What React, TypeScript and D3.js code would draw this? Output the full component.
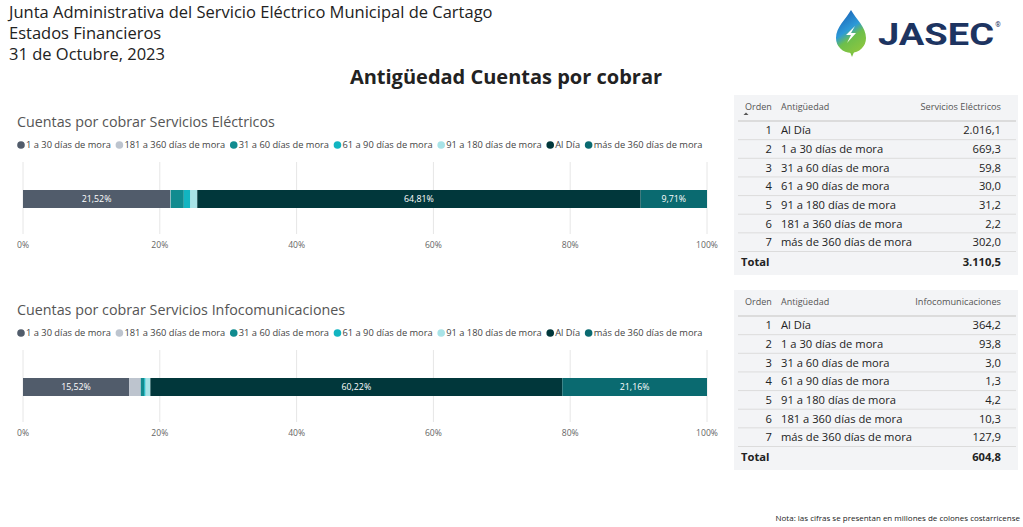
import React, { useEffect, useRef } from "react";
import * as d3 from "d3";

// stack order (same as legend)
const categories = [
  "1 a 30 días de mora",
  "181 a 360 días de mora",
  "31 a 60 días de mora",
  "61 a 90 días de mora",
  "91 a 180 días de mora",
  "Al Día",
  "más de 360 días de mora",
];
const colors = ["#515c6b", "#bdc4ce", "#118b8f", "#12b5c1", "#a8e3e7", "#01373b", "#0a6a70"];

const elecValues = [669.3, 2.2, 59.8, 30.0, 31.2, 2016.1, 302.0];
const infoValues = [93.8, 10.3, 3.0, 1.3, 4.2, 364.2, 127.9];
// printed shares on the bars (only the big segments carry a label)
const elecShareLabels = ["21,52%", null, null, null, null, "64,81%", "9,71%"];
const infoShareLabels = ["15,52%", null, null, null, null, "60,22%", "21,16%"];

// table order (Orden 1..7)
const tableOrder = [
  "Al Día",
  "1 a 30 días de mora",
  "31 a 60 días de mora",
  "61 a 90 días de mora",
  "91 a 180 días de mora",
  "181 a 360 días de mora",
  "más de 360 días de mora",
];
const elecTotal = 3110.5;
const infoTotal = 604.8;
const tickValues = [0, 0.2, 0.4, 0.6, 0.8, 1];

const FONT = "'Segoe UI', 'Open Sans', sans-serif";

const esLocale = d3.formatLocale({ decimal: ",", thousands: ".", grouping: [3], currency: ["", ""] });
const fmt = esLocale.format(",.1f");

const App = () => {
  const svgRef = useRef<SVGSVGElement | null>(null);

  useEffect(() => {
    const svg = d3.select(svgRef.current);
    svg.selectAll("*").remove();

    // header
    const head = svg.append("g").attr("font-family", FONT).attr("fill", "#222");
    ["Junta Administrativa del Servicio Eléctrico Municipal de Cartago", "Estados Financieros", "31 de Octubre, 2023"].forEach(
      (t, i) => {
        head.append("text").attr("x", 9).attr("y", 18 + i * 21).attr("font-size", 16.5).text(t);
      }
    );
    svg
      .append("text")
      .attr("x", 506)
      .attr("y", 84)
      .attr("text-anchor", "middle")
      .attr("font-family", FONT)
      .attr("font-weight", "bold")
      .attr("font-size", 20)
      .attr("fill", "#222")
      .text("Antigüedad Cuentas por cobrar");

    // logo
    const defs = svg.append("defs");
    const grad = defs
      .append("linearGradient")
      .attr("id", "dropGrad")
      .attr("x1", "0.2")
      .attr("y1", "0")
      .attr("x2", "0.7")
      .attr("y2", "1");
    grad.append("stop").attr("offset", "0").attr("stop-color", "#1a5fb4");
    grad.append("stop").attr("offset", "0.45").attr("stop-color", "#2d9ad8");
    grad.append("stop").attr("offset", "0.65").attr("stop-color", "#6dbf4b");
    grad.append("stop").attr("offset", "1").attr("stop-color", "#8cc63f");
    const logo = svg.append("g");
    logo
      .append("path")
      .attr("d", "M851,10 C846,19 836,27 836,38 A15,15 0 0 0 866,38 C866,27 856,19 851,10 Z")
      .attr("fill", "url(#dropGrad)");
    logo.append("path").attr("d", "M850,52 L852,57 L854,52 Z").attr("fill", "#7cc242");
    logo
      .append("path")
      .attr("d", "M855,26 L846,35 L851,35 L847,43 L856,33 L851,33 Z")
      .attr("fill", "#fff");
    logo
      .append("text")
      .attr("x", 878)
      .attr("y", 45)
      .attr("font-family", "Roboto, 'Liberation Sans', sans-serif")
      .attr("font-weight", "bold")
      .attr("font-size", 31)
      .attr("textLength", 116)
      .attr("lengthAdjust", "spacingAndGlyphs")
      .attr("fill", "#1d3461")
      .text("JASEC");
    logo
      .append("text")
      .attr("x", 998)
      .attr("y", 27)
      .attr("text-anchor", "middle")
      .attr("font-family", "Roboto, sans-serif")
      .attr("font-size", 7)
      .attr("fill", "#1d3461")
      .text("®");

    const x = d3.scaleLinear().domain([0, 1]).range([23, 707]);

    const sections = [
      { title: "Cuentas por cobrar Servicios Eléctricos", values: elecValues, labels: elecShareLabels, dy: 0, header: "Servicios Eléctricos", total: elecTotal, tdy: 0 },
      { title: "Cuentas por cobrar Servicios Infocomunicaciones", values: infoValues, labels: infoShareLabels, dy: 188, header: "Infocomunicaciones", total: infoTotal, tdy: 195 },
    ];

    sections.forEach((s) => {
      const g = svg.append("g").attr("transform", `translate(0,${s.dy})`).attr("font-family", FONT);
      g.append("text").attr("x", 17).attr("y", 127).attr("font-size", 14.3).attr("fill", "#555").text(s.title);

      // legend
      let lx = 21;
      categories.forEach((c, i) => {
        g.append("circle").attr("cx", lx).attr("cy", 145).attr("r", 3.8).attr("fill", colors[i]);
        const t = g
          .append("text")
          .attr("x", lx + 5)
          .attr("y", 148.3)
          .attr("font-size", 9.3)
          .attr("fill", "#444")
          .text(c);
        const w = (t.node() as SVGTextElement).getComputedTextLength();
        lx += 5 + w + 8.5;
      });

      // grid + ticks
      g.selectAll("line.grid")
        .data(tickValues)
        .join("line")
        .attr("x1", (d) => x(d))
        .attr("x2", (d) => x(d))
        .attr("y1", 162)
        .attr("y2", 234)
        .attr("stroke", "#e6e6e6")
        .attr("stroke-width", 1);
      g.selectAll("text.tick")
        .data(tickValues)
        .join("text")
        .attr("x", (d) => x(d))
        .attr("y", 248)
        .attr("text-anchor", "middle")
        .attr("font-size", 8.6)
        .attr("fill", "#666")
        .text((d) => d3.format(".0%")(d));

      // stacked 100% bar
      const row: Record<string, number> = {};
      categories.forEach((c, i) => (row[c] = s.values[i]));
      const series = d3.stack<Record<string, number>>().keys(categories).offset(d3.stackOffsetExpand)([row]);
      series.forEach((ser, i) => {
        const [a, b] = ser[0];
        g.append("rect")
          .attr("x", x(a))
          .attr("y", 190)
          .attr("width", Math.max(0, x(b) - x(a)))
          .attr("height", 18)
          .attr("fill", colors[i]);
        const lab = s.labels[i];
        if (lab) {
          g.append("text")
            .attr("x", (x(a) + x(b)) / 2)
            .attr("y", 202.3)
            .attr("text-anchor", "middle")
            .attr("font-size", 8.8)
            .attr("fill", "#fff")
            .text(lab);
        }
      });

      // table
      const tg = svg.append("g").attr("transform", `translate(0,${s.tdy})`).attr("font-family", FONT);
      tg.append("rect").attr("x", 734).attr("y", 95).attr("width", 284).attr("height", 180).attr("fill", "#f3f4f6");
      tg.append("text").attr("x", 745).attr("y", 110).attr("font-size", 9).attr("fill", "#555").text("Orden");
      tg.append("text").attr("x", 781).attr("y", 110).attr("font-size", 9).attr("fill", "#555").text("Antigüedad");
      tg.append("text").attr("x", 1001).attr("y", 110).attr("text-anchor", "end").attr("font-size", 9.2).attr("fill", "#555").text(s.header);
      if (s.tdy === 0) {
        tg.append("path").attr("d", "M743.5,115 L746,112.5 L748.5,115 Z").attr("fill", "#555");
      }
      const ry = d3.scaleLinear().domain([0, 7]).range([121, 251.5]);
      tg.append("line").attr("x1", 738).attr("x2", 1016).attr("y1", ry(0)).attr("y2", ry(0)).attr("stroke", "#dcdcdc").attr("stroke-width", 2);
      tableOrder.forEach((c, i) => {
        const v = s.values[categories.indexOf(c)];
        const cy = (ry(i) + ry(i + 1)) / 2 + 4;
        tg.append("text").attr("x", 772).attr("y", cy).attr("text-anchor", "end").attr("font-size", 11.2).attr("fill", "#222").text(i + 1);
        tg.append("text").attr("x", 781).attr("y", cy).attr("font-size", 11.2).attr("fill", "#222").text(c);
        tg.append("text").attr("x", 1001).attr("y", cy).attr("text-anchor", "end").attr("font-size", 11.2).attr("fill", "#222").text(fmt(v));
        tg.append("line").attr("x1", 738).attr("x2", 1016).attr("y1", ry(i + 1)).attr("y2", ry(i + 1)).attr("stroke", "#dcdcdc").attr("stroke-width", 1);
      });
      tg.append("text").attr("x", 741).attr("y", 265.5).attr("font-size", 11.2).attr("font-weight", "bold").attr("fill", "#222").text("Total");
      tg.append("text").attr("x", 1001).attr("y", 265.5).attr("text-anchor", "end").attr("font-size", 11.2).attr("font-weight", "bold").attr("fill", "#222").text(fmt(s.total));
    });

    svg
      .append("text")
      .attr("x", 1020)
      .attr("y", 521)
      .attr("text-anchor", "end")
      .attr("font-family", FONT)
      .attr("font-size", 8)
      .attr("fill", "#222")
      .text("Nota: las cifras se presentan en millones de colones costarricense");
  }, []);

  return (
    <svg
      ref={svgRef}
      width={1023}
      height={527}
      style={{ position: "absolute", left: 0, top: 0, background: "#fff" }}
    />
  );
};

export default App;
